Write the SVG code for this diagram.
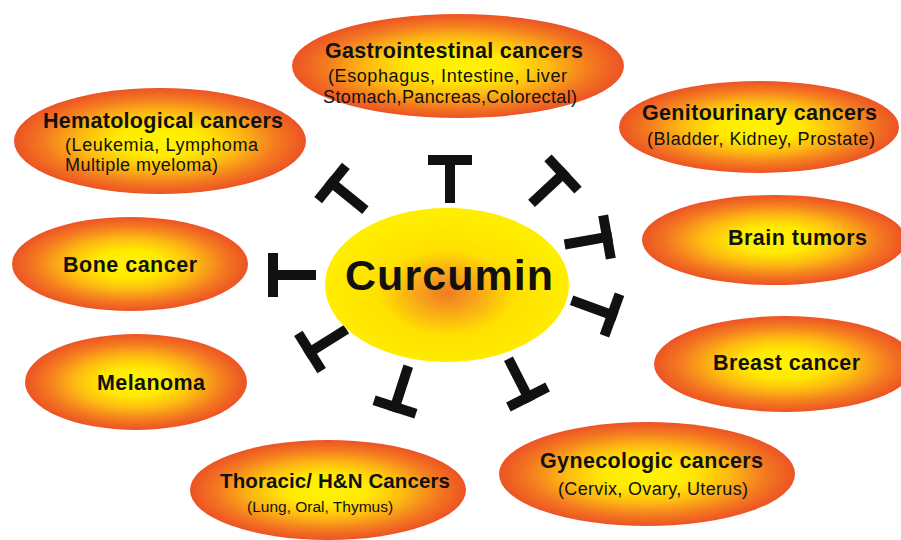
<svg xmlns="http://www.w3.org/2000/svg" xmlns:xlink="http://www.w3.org/1999/xlink" width="901" height="540" viewBox="0 0 901 540">
<style>
.t{font-family:"Liberation Sans",Arial,sans-serif;font-weight:bold;font-size:21.5px;fill:#111}
.s{font-family:"Liberation Sans",Arial,sans-serif;font-size:18px;fill:#111}
.c{font-family:"Liberation Sans",Arial,sans-serif;font-weight:bold;font-size:43px;fill:#111}
.tb{stroke:#111;stroke-width:10;stroke-linecap:butt;fill:none}
</style>
<defs>
<radialGradient id="og" cx="0.5" cy="0.5" r="0.5">
<stop offset="0" stop-color="#FFF400"/>
<stop offset="0.3" stop-color="#FFEA00"/>
<stop offset="0.55" stop-color="#FDBA12"/>
<stop offset="0.8" stop-color="#F47A20"/>
<stop offset="1" stop-color="#EC5324"/>
</radialGradient>
<radialGradient id="cg" cx="0.5" cy="0.55" r="0.5">
<stop offset="0" stop-color="#F07A22"/>
<stop offset="0.25" stop-color="#F9A51A"/>
<stop offset="0.55" stop-color="#FFE000"/>
<stop offset="1" stop-color="#FFEE00"/>
</radialGradient>
<g id="T"><line class="tb" x1="-22" y1="0" x2="22" y2="0"/><line class="tb" x1="0" y1="-5" x2="0" y2="43"/></g>
</defs>
<rect width="901" height="540" fill="#fff"/>

<g id="connectors">
<use xlink:href="#T" href="#T" transform="translate(450,160) rotate(0)"/>
<use xlink:href="#T" href="#T" transform="translate(332,183) rotate(-51)"/>
<use xlink:href="#T" href="#T" transform="translate(273,275) rotate(-90)"/>
<use xlink:href="#T" href="#T" transform="translate(563,174) rotate(47)"/>
<use xlink:href="#T" href="#T" transform="translate(607,237) rotate(80)"/>
<use xlink:href="#T" href="#T" transform="translate(612,315) rotate(110)"/>
<use xlink:href="#T" href="#T" transform="translate(528,397) rotate(153)"/>
<use xlink:href="#T" href="#T" transform="translate(395,407) rotate(-162)"/>
<use xlink:href="#T" href="#T" transform="translate(310,352) rotate(-122)"/>
</g>

<g id="curcumin">
<ellipse cx="447" cy="285" rx="122" ry="77" fill="url(#cg)"/>
<text class="c" x="345" y="290" textLength="208">Curcumin</text>
</g>

<g id="gastro">
<ellipse cx="458" cy="66" rx="166" ry="52" fill="url(#og)"/>
<text class="t" x="325" y="58" textLength="258">Gastrointestinal cancers</text>
<text class="s" x="328" y="82" textLength="239">(Esophagus, Intestine, Liver</text>
<text class="s" x="323" y="103" textLength="254">Stomach,Pancreas,Colorectal)</text>
</g>

<g id="hemato">
<ellipse cx="160" cy="141" rx="146" ry="53" fill="url(#og)"/>
<text class="t" x="43" y="128" textLength="240">Hematological cancers</text>
<text class="s" x="65" y="151" textLength="193">(Leukemia, Lymphoma</text>
<text class="s" x="65" y="171" textLength="153">Multiple myeloma)</text>
</g>

<g id="genito">
<ellipse cx="759" cy="127" rx="140" ry="46" fill="url(#og)"/>
<text class="t" x="642" y="120" textLength="235">Genitourinary cancers</text>
<text class="s" x="647" y="145" textLength="228">(Bladder, Kidney, Prostate)</text>
</g>

<g id="brain">
<ellipse cx="774" cy="240" rx="132" ry="45" fill="url(#og)"/>
<text class="t" x="728" y="245" textLength="139">Brain tumors</text>
</g>

<g id="bone">
<ellipse cx="130" cy="264" rx="118" ry="47" fill="url(#og)"/>
<text class="t" x="63" y="272" textLength="134">Bone cancer</text>
</g>

<g id="melanoma">
<ellipse cx="136" cy="382" rx="111" ry="48" fill="url(#og)"/>
<text class="t" x="97" y="390" textLength="108">Melanoma</text>
</g>

<g id="breast">
<ellipse cx="785" cy="364" rx="131" ry="48" fill="url(#og)"/>
<text class="t" x="713" y="370" textLength="147">Breast cancer</text>
</g>

<g id="thoracic">
<ellipse cx="328" cy="490" rx="138" ry="50" fill="url(#og)"/>
<text class="t" x="220" y="488" style="font-size:20.5px" textLength="230">Thoracic/ H&amp;N Cancers</text>
<text class="s" x="247" y="512" style="font-size:15.5px">(Lung, Oral, Thymus)</text>
</g>

<g id="gyneco">
<ellipse cx="647" cy="474" rx="148" ry="52" fill="url(#og)"/>
<text class="t" x="540" y="468" textLength="223">Gynecologic cancers</text>
<text class="s" x="558" y="495" textLength="190">(Cervix, Ovary, Uterus)</text>
</g>
</svg>
